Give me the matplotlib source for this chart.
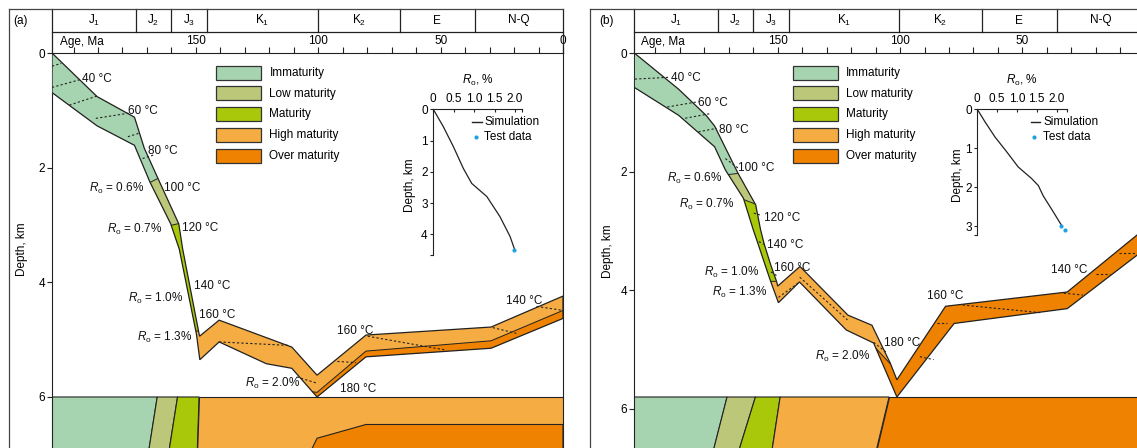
import numpy as np
import matplotlib
matplotlib.use("Agg")
import matplotlib.pyplot as plt
from matplotlib.patches import Polygon, Rectangle

plt.rcParams['font.family'] = ['Liberation Sans', 'DejaVu Sans']
plt.rcParams['mathtext.fontset'] = 'custom'
plt.rcParams['mathtext.rm'] = 'Liberation Sans'
plt.rcParams['mathtext.it'] = 'Liberation Sans:italic'
plt.rcParams['mathtext.bf'] = 'Liberation Sans:bold'
plt.rcParams['font.size'] = 8.5
plt.rcParams['axes.linewidth'] = 0.8

# ---------------- data ----------------
period_names = [r'J$_1$', r'J$_2$', r'J$_3$', r'K$_1$', r'K$_2$', 'E', 'N-Q']
period_bounds = [208.8, 174.6, 160.0, 145.5, 100.3, 66.7, 36.0, 0.0]
age_major = [150, 100, 50, 0]
age_minor = [200, 190, 180, 170, 160, 140, 130, 120, 110, 90, 80, 70, 60, 40, 30, 20, 10]
depth_ticks = [0, 2, 4, 6]

zone_names = ['Immaturity', 'Low maturity', 'Maturity', 'High maturity', 'Over maturity']
zone_colors = ['#a7d4b0', '#bcc77a', '#aac80a', '#f5ac42', '#ef8200']

# ---- panel (a) ----
a_top_age = [208.8, 190.4, 175.1, 171.1, 165.8, 157.0, 155.4, 148.7, 148.5, 140.5, 110.8, 100.5, 80.5, 29.4, 0.0]
a_top_dep = [0.00, 0.76, 1.12, 1.66, 2.16, 2.98, 3.42, 4.90, 4.94, 4.66, 5.13, 5.62, 4.92, 4.78, 4.24]
a_base_age = [208.8, 190.4, 175.1, 168.8, 160.3, 156.8, 149.8, 148.4, 140.5, 121.2, 110.8, 100.5, 80.5, 29.4, 0.0]
a_base_dep = [0.69, 1.27, 1.61, 2.25, 2.98, 3.42, 4.90, 5.35, 5.04, 5.42, 5.50, 6.00, 5.30, 5.15, 4.63]
a_imm_region = [(215, -0.5), (215, 2.30), (168.8, 2.26), (164.3, 2.16), (155, 2.10), (155, -0.5)]
a_low_region = [(215, -0.5), (215, 3.02), (160.5, 3.01), (156.5, 2.97), (150, 2.90), (150, -0.5)]
a_mat_region = [(215, -0.5), (215, 4.85), (147.5, 4.85), (146, 4.5), (146, -0.5)]
a_over_region = [(104.0, 8), (104.0, 5.90), (100.5, 5.92), (80.5, 5.20), (29.4, 5.02), (0, 4.49), (-5, 4.40), (-5, 8)]
a_iso = [(208.8, 0.23, 205.0, 0.18), (208.8, 0.60, 196.9, 0.46), (201.7, 0.91, 190.4, 0.75),
         (190.9, 1.14, 177.5, 1.05), (177.8, 1.46, 173.3, 1.40), (171.8, 1.84, 167.3, 1.78),
         (140.5, 5.04, 112.2, 5.10), (108.8, 5.65, 100.5, 5.76), (92.2, 5.38, 84.6, 5.40),
         (79.8, 4.94, 48.1, 5.18), (28.7, 4.79, 19.1, 4.89), (10.8, 4.42, 0.0, 4.49)]
a_labels = [('40 °C', 196.4, 0.45, 'left'), ('60 °C', 177.8, 1.01, 'left'),
            ('80 °C', 169.6, 1.71, 'left'), ('100 °C', 162.9, 2.36, 'left'),
            ('120 °C', 155.8, 3.05, 'left'), ('140 °C', 150.6, 4.07, 'left'),
            ('160 °C', 148.7, 4.57, 'left'), ('160 °C', 92.4, 4.85, 'left'),
            ('180 °C', 91.2, 5.86, 'left'), ('140 °C', 23.2, 4.33, 'left'),
            (r'$R_\mathrm{o}$ = 0.6%', 171.1, 2.36, 'right'),
            (r'$R_\mathrm{o}$ = 0.7%', 163.6, 3.07, 'right'),
            (r'$R_\mathrm{o}$ = 1.0%', 155.4, 4.29, 'right'),
            (r'$R_\mathrm{o}$ = 1.3%', 151.6, 4.97, 'right'),
            (r'$R_\mathrm{o}$ = 2.0%', 107.6, 5.76, 'right')]
a_strip_dep = [6.0, 7.0]
a_strip_top_bounds = [208.8, 165.8, 157.5, 148.7, -5]
a_strip_bot_bounds = [208.8, 169.5, 161.2, 149.5, -5]
a_strip_over_age = [103.7, 100.5, 80.5, 0.0, 0.0]
a_strip_over_dep = [7.0, 6.72, 6.48, 6.48, 7.0]
a_sim_ro = [0, 0.245, 0.49, 0.735, 0.94, 1.31, 1.63, 1.88, 2.0]
a_sim_dep = [0, 0.555, 1.19, 1.89, 2.37, 2.79, 3.43, 4.07, 4.52]
a_test_ro = [1.98]
a_test_dep = [4.50]

# ---- panel (b) ----
b_top_age = [208.6, 190.5, 179.3, 175.8, 166.2, 159.0, 157.0, 155.6, 152.8, 150.4, 150.0, 140.9, 121.3,
             111.5, 104.0, 101.3, 81.4, 31.7, 3.2, 0.0]
b_top_dep = [0.00, 0.61, 1.05, 1.23, 2.03, 2.56, 2.98, 3.21, 3.58, 3.86, 3.93, 3.60, 4.42,
             4.59, 5.23, 5.51, 4.27, 4.03, 3.07, 2.96]
b_base_age = [208.6, 190.5, 175.8, 171.4, 164.0, 160.0, 158.1, 155.1, 152.8, 149.7, 141.1, 122.0,
              110.8, 101.3, 77.9, 31.7, 3.2, 0.0]
b_base_dep = [0.58, 1.05, 1.58, 1.97, 2.45, 2.98, 3.21, 3.58, 3.86, 4.21, 3.86, 4.67,
              4.89, 5.80, 4.56, 4.31, 3.41, 3.31]
b_imm_region = [(215, -0.5), (215, 2.07), (170.2, 2.05), (166.2, 2.03), (160, 1.90), (160, -0.5)]
b_low_region = [(215, -0.5), (215, 2.50), (164.0, 2.47), (158.9, 2.55), (155, 2.40), (155, -0.5)]
b_mat_region = [(215, -0.5), (215, 3.85), (149.0, 3.85), (147.0, 3.40), (147.0, -0.5)]
b_over_region = [(111.2, 8), (111.2, 4.92), (103.8, 5.25), (103.0, 3.0), (-5, 2.0), (-5, 8)]
b_iso = [(208.4, 0.44, 194.6, 0.41), (195.1, 0.91, 182.4, 0.82), (187.8, 1.10, 177.3, 1.02),
         (182.4, 1.33, 175.0, 1.27), (171.4, 1.78, 166.2, 1.94), (159.8, 2.70, 157.3, 2.73),
         (157.7, 3.18, 154.9, 3.24), (152.8, 3.69, 150.2, 3.76), (149.7, 4.12, 141.3, 3.87),
         (141.0, 3.78, 121.5, 4.50), (110.8, 4.88, 105.5, 5.05), (91.9, 5.12, 86.3, 5.17),
         (84.8, 4.55, 81.0, 4.55), (74.4, 4.25, 42.2, 4.38), (33.1, 4.05, 25.3, 4.08),
         (19.8, 3.72, 14.2, 3.72), (10.7, 3.38, 3.2, 3.38)]
b_labels = [('40 °C', 193.7, 0.42, 'left'), ('60 °C', 182.4, 0.84, 'left'),
            ('80 °C', 174.0, 1.30, 'left'), ('100 °C', 166.2, 1.94, 'left'),
            ('120 °C', 155.5, 2.78, 'left'), ('140 °C', 154.2, 3.24, 'left'),
            ('160 °C', 151.4, 3.63, 'left'), ('180 °C', 106.6, 4.89, 'left'),
            ('160 °C', 89.1, 4.10, 'left'), ('140 °C', 38.3, 3.66, 'left'),
            (r'$R_\mathrm{o}$ = 0.6%', 172.9, 2.11, 'right'),
            (r'$R_\mathrm{o}$ = 0.7%', 167.7, 2.55, 'right'),
            (r'$R_\mathrm{o}$ = 1.0%', 157.7, 3.70, 'right'),
            (r'$R_\mathrm{o}$ = 1.3%', 154.2, 4.03, 'right'),
            (r'$R_\mathrm{o}$ = 2.0%', 112.2, 5.11, 'right')]
b_strip_dep = [5.80, 6.8]
b_strip_top_bounds = [208.6, 170.7, 159.1, 149.0, 104.5, -5]
b_strip_bot_bounds = [208.6, 176.9, 166.6, 152.7, 110.3, -5]
b_sim_ro = [0, 0.193, 0.445, 0.74, 1.03, 1.37, 1.54, 1.66, 1.87, 2.13]
b_sim_dep = [0, 0.32, 0.71, 1.09, 1.48, 1.78, 1.96, 2.22, 2.56, 2.99]
b_test_ro = [2.11, 2.22]
b_test_dep = [2.99, 3.09]

# ---------------- figure ----------------
W, H = 1137, 448
fig = plt.figure(figsize=(W / 100, H / 100), dpi=100)
LC = '#222222'
CYAN = '#1fa3e0'


def rect(x0, y0, x1, y1):
    return [x0 / W, 1 - y1 / H, (x1 - x0) / W, (y1 - y0) / H]


def draw_panel(x0, x1, age_left, dep_bottom, top_age, top_dep, base_age, base_dep,
               regions, iso, labels, strip_dep, strip_top, strip_bot, strip_over=None,
               show_zero=True):
    ax = fig.add_axes(rect(x0, 53, x1, 448))
    ax.set_xlim(age_left, 0)
    ax.set_ylim(dep_bottom, 0)
    ax.spines['bottom'].set_visible(False)
    for s in ['left', 'top', 'right']:
        ax.spines[s].set_color(LC)
    # band
    verts = list(zip(top_age, top_dep)) + list(zip(base_age[::-1], base_dep[::-1]))
    band = Polygon(verts, closed=True, facecolor=zone_colors[3], edgecolor='none', zorder=2)
    ax.add_patch(band)
    for reg, col in regions:
        p = Polygon(reg, closed=True, facecolor=col, edgecolor=LC, lw=0.7, zorder=3)
        ax.add_patch(p)
        p.set_clip_path(band)
    ax.add_patch(Polygon(verts, closed=True, fill=False, edgecolor=LC, lw=0.9, zorder=5))
    for a1, d1, a2, d2 in iso:
        ax.plot([a1, a2], [d1, d2], color=LC, lw=0.8, ls=(0, (2, 2)), zorder=4)
    for txt, ag, dp, ha in labels:
        ax.text(ag, dp, txt, ha=ha, va='center', fontsize=8.5, color='#111111', zorder=6)
    # bottom strip
    for i in range(len(strip_top) - 1):
        poly = [(strip_top[i], strip_dep[0]), (strip_top[i + 1], strip_dep[0]),
                (strip_bot[i + 1], strip_dep[1]), (strip_bot[i], strip_dep[1])]
        ax.add_patch(Polygon(poly, closed=True, facecolor=zone_colors[i], edgecolor=LC,
                             lw=0.8, zorder=2))
    if strip_over is not None:
        ax.add_patch(Polygon(list(zip(*strip_over)), closed=True, facecolor=zone_colors[4],
                             edgecolor=LC, lw=0.8, zorder=2))
    # ticks
    ax.set_yticks(depth_ticks)
    ax.set_yticklabels([str(t) for t in depth_ticks])
    ax.tick_params(axis='y', direction='out', length=3.5, width=0.8, pad=1.5,
                   labelsize=8.5, color=LC)
    ax.xaxis.set_ticks_position('top')
    ax.set_xticks(age_major)
    ax.set_xticklabels([str(t) if (t != 0 or show_zero) else '' for t in age_major])
    ax.set_xticks(age_minor, minor=True)
    ax.tick_params(axis='x', which='both', direction='out', length=4, width=0.8, pad=0.5,
                   labelsize=8.5, color=LC)
    # header
    hx = fig.add_axes(rect(x0, 9, x1, 53))
    hx.set_xlim(age_left, 0)
    hx.set_ylim(44, 0)
    hx.axis('off')
    hx.plot([age_left, 0], [23, 23], color=LC, lw=0.9, clip_on=False)
    for b in period_bounds[1:-1]:
        hx.plot([b, b], [0, 23], color=LC, lw=0.9, clip_on=False)
    hx.plot([age_left, age_left], [0, 44], color=LC, lw=0.9, clip_on=False)
    hx.plot([0, 0], [0, 44], color=LC, lw=0.9, clip_on=False)
    for i, nm in enumerate(period_names):
        lo = min(period_bounds[i], age_left)
        hx.text((lo + period_bounds[i + 1]) / 2, 11.5, nm, ha='center', va='center', fontsize=8.5)
    hx.text(205.7, 32.7, 'Age, Ma', ha='left', va='center', fontsize=8.5)
    return ax


draw_panel(52, 563, 208.8, 6.89, a_top_age, a_top_dep, a_base_age, a_base_dep,
           [(a_mat_region, zone_colors[2]), (a_low_region, zone_colors[1]),
            (a_imm_region, zone_colors[0]), (a_over_region, zone_colors[4])],
           a_iso, a_labels, a_strip_dep, a_strip_top_bounds, a_strip_bot_bounds,
           (a_strip_over_age, a_strip_over_dep))
draw_panel(634.3, 1144.8, 208.6, 6.66, b_top_age, b_top_dep, b_base_age, b_base_dep,
           [(b_mat_region, zone_colors[2]), (b_low_region, zone_colors[1]),
            (b_imm_region, zone_colors[0]), (b_over_region, zone_colors[4])],
           b_iso, b_labels, b_strip_dep, b_strip_top_bounds, b_strip_bot_bounds, None,
           show_zero=False)

# overlay in pixel coordinates
ov = fig.add_axes([0, 0, 1, 1], zorder=10)
ov.set_xlim(0, W)
ov.set_ylim(H, 0)
ov.axis('off')
FC = '#444444'
ov.plot([9, 563], [9, 9], color=FC, lw=0.9)
ov.plot([9, 9], [9, 460], color=FC, lw=0.9, clip_on=False)
ov.plot([590, 1140], [9, 9], color=FC, lw=0.9, clip_on=False)
ov.plot([590, 590], [9, 460], color=FC, lw=0.9, clip_on=False)
ov.text(21, 21, '(a)', ha='center', va='center', fontsize=8.5)
ov.text(607, 21, '(b)', ha='center', va='center', fontsize=8.5)
ov.text(22, 249, 'Depth, km', rotation=90, ha='center', va='center', fontsize=8.5)
ov.text(607.5, 251, 'Depth, km', rotation=90, ha='center', va='center', fontsize=8.5)

leg_rows = [72.7, 93.5, 114.5, 135.3, 155.7]
for lx in (215.7, 792.5):
    for yy, nm, col in zip(leg_rows, zone_names, zone_colors):
        ov.add_patch(Rectangle((lx, yy - 7), 45.7, 14, facecolor=col, edgecolor='#333333', lw=0.9))
        ov.text(lx + 53.7, yy, nm, ha='left', va='center', fontsize=8.5)


def inset(x0, x1, y0, y1, xmax, ymax, yt, ro, dep, tro, tdep, leg_x, dlab_x):
    ax = fig.add_axes(rect(x0, y0, x1, y1), zorder=11)
    ax.patch.set_alpha(0)
    ax.set_xlim(0, xmax)
    ax.set_ylim(ymax, 0)
    ax.spines['right'].set_visible(False)
    ax.spines['bottom'].set_visible(False)
    for s in ['left', 'top']:
        ax.spines[s].set_color(LC)
    ax.plot(ro, dep, color=LC, lw=0.9)
    ax.plot(tro, tdep, 'o', color=CYAN, ms=3, mec='none', clip_on=False)
    ax.xaxis.set_ticks_position('top')
    ax.set_xticks([0, 0.5, 1.0, 1.5, 2.0])
    ax.set_xticklabels(['0', '0.5', '1.0', '1.5', '2.0'])
    ax.set_xticks([xmax], minor=True)
    ax.set_yticks(yt)
    ax.set_yticklabels([str(t) for t in yt])
    ax.set_yticks([ymax], minor=True)
    ax.tick_params(axis='x', which='both', direction='in', length=2.5, width=0.8, pad=3,
                   labelsize=8.5, color=LC)
    ax.tick_params(axis='y', which='both', direction='out', length=2.5, width=0.8, pad=1.5,
                   labelsize=8.5, color=LC)
    ov.text((x0 + x1) / 2, 80.7, r'$R_\mathrm{o}$, %', ha='center', va='center', fontsize=8.5)
    ov.plot([leg_x, leg_x + 9.5], [121.7, 121.7], color=LC, lw=1.0)
    ov.text(leg_x + 12.5, 121.7, 'Simulation', ha='left', va='center', fontsize=8.5)
    ov.plot([leg_x + 3.5], [137.3], 'o', color=CYAN, ms=3, mec='none')
    ov.text(leg_x + 12.5, 137.3, 'Test data', ha='left', va='center', fontsize=8.5)
    ov.text(dlab_x, (y0 + y1) / 2 + 3, 'Depth, km', rotation=90, ha='center', va='center',
            fontsize=8.5)


inset(433.3, 521.7, 109.3, 255.0, 2.164, 4.66, [0, 1, 2, 3, 4],
      a_sim_ro, a_sim_dep, a_test_ro, a_test_dep, 472.0, 410.0)
inset(977.3, 1067.3, 109.3, 235.0, 2.27, 3.23, [0, 1, 2, 3],
      b_sim_ro, b_sim_dep, b_test_ro, b_test_dep, 1030.7, 958.0)

fig.savefig('out.png', dpi=100)
